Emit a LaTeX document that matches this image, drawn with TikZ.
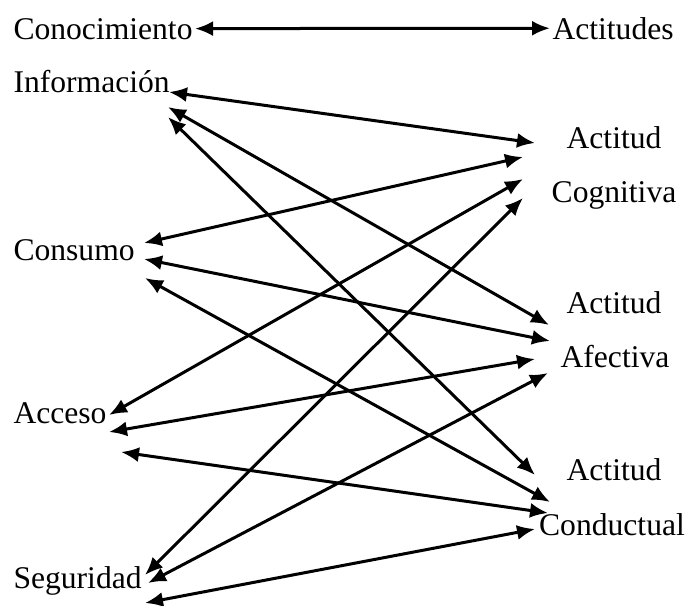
\documentclass[tikz,border=0pt]{standalone}
\usepackage{fontspec}
\setmainfont{Liberation Serif}
\usetikzlibrary{arrows.meta}

\begin{document}
\begin{tikzpicture}[x=0.5pt,y=-0.5pt,inner sep=0.5pt,line width=1.5pt,
   >={Latex[length=9pt,width=7.5pt]},font=\fontsize{15.8}{18}\selectfont]
   \useasboundingbox (0,0) rectangle (689,605);
   \node (con) at ( 11, 39) [anchor=base west] {Conocimiento};
   \node (act) at (550, 39) [anchor=base west] {Actitudes};
   \node (inf) at ( 11, 92) [anchor=base west] {Información};
   \node (cns) at ( 11,260) [anchor=base west] {Consumo};
   \node (acc) at ( 11,423) [anchor=base west] {Acceso};
   \node (seg) at ( 11,588) [anchor=base west] {Seguridad};
   \node (g0) at (614,148) [anchor=base] {Actitud};
   \node (g)  at (614,202) [anchor=base] {Cognitiva};
   \node (f0) at (614,313) [anchor=base] {Actitud};
   \node (f)  at (615,367) [anchor=base] {Afectiva};
   \node (d0) at (614,480) [anchor=base] {Actitud};
   \node (d)  at (612,535) [anchor=base] {Conductual};
   % ends on the left
   \coordinate (i1) at (169, 92);
   \coordinate (i2) at (168,107);
   \coordinate (i3) at (168,117);
   \coordinate (n1) at (144,243);
   \coordinate (n2) at (144,259);
   \coordinate (n3) at (145,278);
   \coordinate (a1) at (109,415);
   \coordinate (a2) at (109,432);
   \coordinate (a3) at (121,452);
   \coordinate (s1) at (145,575);
   \coordinate (s2) at (148,583);
   \coordinate (s3) at (145,603);
   % ends on the right
   \coordinate (g1) at (535,143);
   \coordinate (g2) at (523,157);
   \coordinate (g3) at (523,179);
   \coordinate (g4) at (523,198);
   \coordinate (f1) at (549,325);
   \coordinate (f2) at (550,341);
   \coordinate (f3) at (535,359);
   \coordinate (f4) at (548,373);
   \coordinate (d1) at (535,475);
   \coordinate (d2) at (550,502);
   \coordinate (d3) at (548,513);
   \coordinate (d4) at (535,529);
   \draw[<->] (con) to (act);
   \draw[<->] (i1) to (g1);
   \draw[<->] (i2) to (f1);
   \draw[<->] (i3) to (d1);
   \draw[<->] (n1) to (g2);
   \draw[<->] (n2) to (f2);
   \draw[<->] (n3) to (d2);
   \draw[<->] (a1) to (g3);
   \draw[<->] (a2) to (f3);
   \draw[<->] (a3) to (d3);
   \draw[<->] (s1) to (g4);
   \draw[<->] (s2) to (f4);
   \draw[<->] (s3) to (d4);
\end{tikzpicture}
\end{document}
